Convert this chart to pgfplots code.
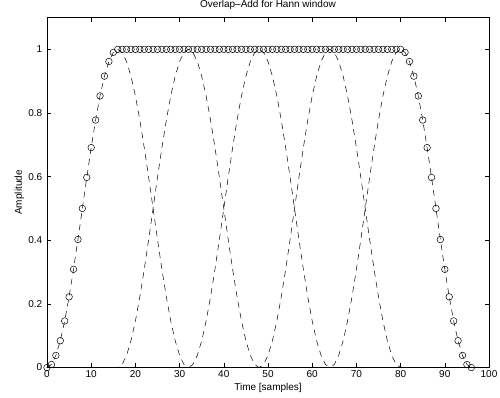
\documentclass[border=0pt]{standalone}
\usepackage{fontspec}
\setmainfont{Liberation Sans}
\usepackage{pgfplots}
\usepackage{pgfplotstable}
\pgfplotsset{compat=1.18}
\pgfplotstableread{
x s a b c d e
0 0 0 0 0 0 0
1 0.0096 0.0096 0 0 0 0
2 0.0381 0.0381 0 0 0 0
3 0.0843 0.0843 0 0 0 0
4 0.1464 0.1464 0 0 0 0
5 0.2222 0.2222 0 0 0 0
6 0.3087 0.3087 0 0 0 0
7 0.4025 0.4025 0 0 0 0
8 0.5 0.5 0 0 0 0
9 0.5975 0.5975 0 0 0 0
10 0.6913 0.6913 0 0 0 0
11 0.7778 0.7778 0 0 0 0
12 0.8536 0.8536 0 0 0 0
13 0.9157 0.9157 0 0 0 0
14 0.9619 0.9619 0 0 0 0
15 0.9904 0.9904 0 0 0 0
16 1 1 0 0 0 0
17 1 0.9904 0.0096 0 0 0
18 1 0.9619 0.0381 0 0 0
19 1 0.9157 0.0843 0 0 0
20 1 0.8536 0.1464 0 0 0
21 1 0.7778 0.2222 0 0 0
22 1 0.6913 0.3087 0 0 0
23 1 0.5975 0.4025 0 0 0
24 1 0.5 0.5 0 0 0
25 1 0.4025 0.5975 0 0 0
26 1 0.3087 0.6913 0 0 0
27 1 0.2222 0.7778 0 0 0
28 1 0.1464 0.8536 0 0 0
29 1 0.0843 0.9157 0 0 0
30 1 0.0381 0.9619 0 0 0
31 1 0.0096 0.9904 0 0 0
32 1 0 1 0 0 0
33 1 0 0.9904 0.0096 0 0
34 1 0 0.9619 0.0381 0 0
35 1 0 0.9157 0.0843 0 0
36 1 0 0.8536 0.1464 0 0
37 1 0 0.7778 0.2222 0 0
38 1 0 0.6913 0.3087 0 0
39 1 0 0.5975 0.4025 0 0
40 1 0 0.5 0.5 0 0
41 1 0 0.4025 0.5975 0 0
42 1 0 0.3087 0.6913 0 0
43 1 0 0.2222 0.7778 0 0
44 1 0 0.1464 0.8536 0 0
45 1 0 0.0843 0.9157 0 0
46 1 0 0.0381 0.9619 0 0
47 1 0 0.0096 0.9904 0 0
48 1 0 0 1 0 0
49 1 0 0 0.9904 0.0096 0
50 1 0 0 0.9619 0.0381 0
51 1 0 0 0.9157 0.0843 0
52 1 0 0 0.8536 0.1464 0
53 1 0 0 0.7778 0.2222 0
54 1 0 0 0.6913 0.3087 0
55 1 0 0 0.5975 0.4025 0
56 1 0 0 0.5 0.5 0
57 1 0 0 0.4025 0.5975 0
58 1 0 0 0.3087 0.6913 0
59 1 0 0 0.2222 0.7778 0
60 1 0 0 0.1464 0.8536 0
61 1 0 0 0.0843 0.9157 0
62 1 0 0 0.0381 0.9619 0
63 1 0 0 0.0096 0.9904 0
64 1 0 0 0 1 0
65 1 0 0 0 0.9904 0.0096
66 1 0 0 0 0.9619 0.0381
67 1 0 0 0 0.9157 0.0843
68 1 0 0 0 0.8536 0.1464
69 1 0 0 0 0.7778 0.2222
70 1 0 0 0 0.6913 0.3087
71 1 0 0 0 0.5975 0.4025
72 1 0 0 0 0.5 0.5
73 1 0 0 0 0.4025 0.5975
74 1 0 0 0 0.3087 0.6913
75 1 0 0 0 0.2222 0.7778
76 1 0 0 0 0.1464 0.8536
77 1 0 0 0 0.0843 0.9157
78 1 0 0 0 0.0381 0.9619
79 1 0 0 0 0.0096 0.9904
80 1 0 0 0 0 1
81 0.9904 0 0 0 0 0.9904
82 0.9619 0 0 0 0 0.9619
83 0.9157 0 0 0 0 0.9157
84 0.8536 0 0 0 0 0.8536
85 0.7778 0 0 0 0 0.7778
86 0.6913 0 0 0 0 0.6913
87 0.5975 0 0 0 0 0.5975
88 0.5 0 0 0 0 0.5
89 0.4025 0 0 0 0 0.4025
90 0.3087 0 0 0 0 0.3087
91 0.2222 0 0 0 0 0.2222
92 0.1464 0 0 0 0 0.1464
93 0.0843 0 0 0 0 0.0843
94 0.0381 0 0 0 0 0.0381
95 0.0096 0 0 0 0 0.0096
96 0 0 0 0 0 0
}\datatab
\begin{document}
\begin{tikzpicture}
\begin{axis}[
  at={(0,0)}, anchor=south west,
  scale only axis, width=442pt, height=350pt,
  xmin=0, xmax=100, ymin=0, ymax=1.1,
  xtick={0,10,20,30,40,50,60,70,80,90,100},
  ytick={0,0.2,0.4,0.6,0.8,1},
  yticklabels={0,0.2,0.4,0.6,0.8,1},
  tick align=inside, xtick pos=both, ytick pos=both,
  major tick length=4.5pt,
  axis line style={line width=0.8pt},
  every tick/.style={black, line width=0.6pt},
  /pgf/number format/assume math mode=true,
  tick label style={font=\fontsize{10}{12}\selectfont},
  x tick label style={inner sep=0pt, anchor=north, yshift=-3pt},
  y tick label style={inner sep=0pt, anchor=east, xshift=-4.5pt},
  title={Overlap\textendash Add for Hann window},
  title style={at={(axis description cs:0.5,1)}, anchor=base, yshift=4.3pt, inner sep=0pt, font=\fontsize{10}{12}\selectfont},
  xlabel={Time [samples]},
  xlabel style={at={(axis description cs:0.5,0)}, anchor=base, yshift=-23pt, inner sep=0pt, font=\fontsize{10}{12}\selectfont},
  ylabel={Amplitude},
  ylabel style={at={(axis description cs:-0.0627,0.5)}, anchor=center, inner sep=0pt, font=\fontsize{10}{12}\selectfont},
]
\addplot[black, line width=0.5pt, dash pattern=on 6pt off 5pt] table[x=x,y=a] {\datatab};
\addplot[black, line width=0.5pt, dash pattern=on 6pt off 5pt] table[x=x,y=b] {\datatab};
\addplot[black, line width=0.5pt, dash pattern=on 6pt off 5pt] table[x=x,y=c] {\datatab};
\addplot[black, line width=0.5pt, dash pattern=on 6pt off 5pt] table[x=x,y=d] {\datatab};
\addplot[black, line width=0.5pt, dash pattern=on 6pt off 5pt] table[x=x,y=e] {\datatab};
\addplot[black, only marks, mark=o, mark size=3.3pt, mark options={solid, line width=0.5pt}] table[x=x,y=s] {\datatab};
\end{axis}
\path[use as bounding box] (-47pt,-30pt) rectangle (453pt,366pt);
\end{tikzpicture}
\end{document}
